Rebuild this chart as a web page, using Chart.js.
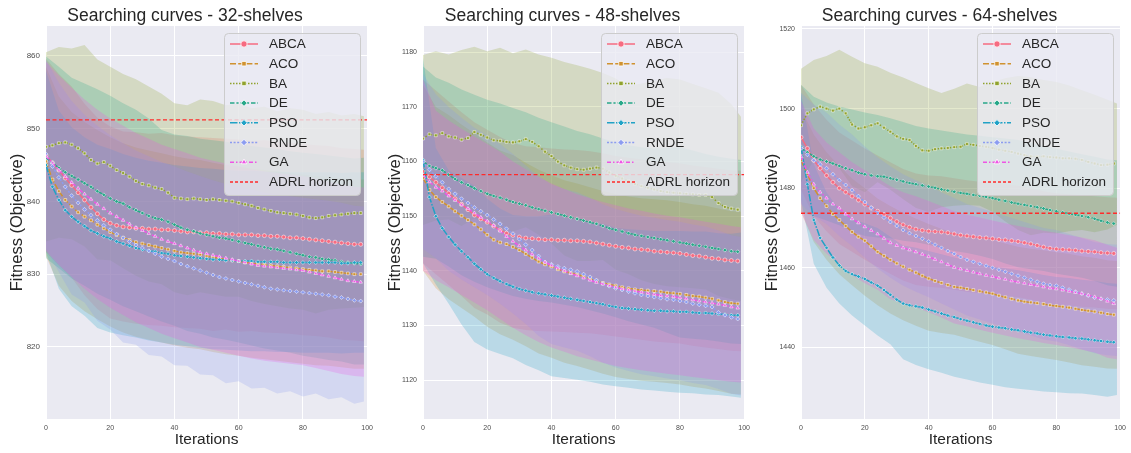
<!DOCTYPE html>
<html><head><meta charset="utf-8">
<script src="https://cdn.jsdelivr.net/npm/chart.js@4.4.0/dist/chart.umd.min.js"></script>
<style>
body{margin:0;background:#fff;width:1131px;height:453px;overflow:hidden;position:relative}
canvas{position:absolute;top:0}
</style></head><body>
<canvas id="c1" width="378" height="453" style="left:0"></canvas>
<canvas id="c2" width="377" height="453" style="left:378px"></canvas>
<canvas id="c3" width="376" height="453" style="left:755px"></canvas>
<script>
// ---------- DATA ----------
const SERIES = ['ABCA','ACO','BA','DE','PSO','RNDE','GA'];
const LEGEND_EXTRA = 'ADRL horizon';
const TITLES = ['Searching curves - 32-shelves','Searching curves - 48-shelves','Searching curves - 64-shelves'];
const X_LABEL = 'Iterations';
const Y_LABEL = 'Fitness (Objective)';
const xTicks = [0,20,40,60,80,100];
const yTicks32 = [820,830,840,850,860];
const yTicks48 = [1120,1130,1140,1150,1160,1170,1180];
const yTicks64 = [1440,1460,1480,1500,1520];
const adrl32 = 851.2, adrl48 = 1157.6, adrl64 = 1473.7;

const xMean = [0,2,4,6,8,10,12,14,16,18,20,22,24,26,28,30,32,34,36,38,40,42,44,46,48,50,52,54,56,58,60,62,64,66,68,70,72,74,76,78,80,82,84,86,88,90,92,94,96,98];
const xBand = [0,4,8,12,16,20,24,28,32,36,40,44,48,52,56,60,64,68,72,76,80,84,88,92,96,99];

// 32-shelves means
const m32_ABCA = [846.3,845.3,844.3,843.2,842.2,841.2,840.2,839.2,838.3,837.5,837.0,836.7,836.5,836.4,836.3,836.3,836.2,836.2,836.1,836.1,836.0,835.9,835.8,835.8,835.7,835.7,835.6,835.6,835.5,835.5,835.4,835.4,835.4,835.3,835.3,835.2,835.2,835.1,835.0,835.0,834.9,834.8,834.7,834.6,834.5,834.4,834.3,834.2,834.1,834.1];
const m32_ACO = [845.5,843.0,841.4,840.2,839.3,838.5,837.9,837.4,836.8,836.3,835.8,835.4,835.0,834.7,834.4,834.2,834.0,833.8,833.6,833.4,833.2,833.0,832.9,832.8,832.7,832.5,832.3,832.2,832.0,831.9,831.8,831.6,831.5,831.4,831.3,831.2,831.1,831.0,830.9,830.8,830.7,830.6,830.5,830.4,830.4,830.3,830.2,830.1,830.0,830.0];
const m32_BA = [847.5,847.7,848.0,848.1,847.8,847.3,846.6,845.7,845.2,845.4,844.9,844.3,843.9,843.4,842.8,842.4,842.2,841.9,841.7,841.2,840.5,840.4,840.3,840.4,840.3,840.2,840.3,840.2,840.1,840.0,839.8,839.6,839.4,839.1,838.9,838.7,838.5,838.4,838.3,838.2,838.0,837.8,837.7,837.8,838.0,838.1,838.2,838.3,838.4,838.4];
const m32_DE = [846.0,845.3,844.6,844.0,843.5,843.0,842.5,842.0,841.4,840.9,840.4,840.0,839.7,839.2,838.8,838.4,838.0,837.7,837.5,837.2,836.8,836.4,836.1,835.9,835.6,835.4,835.2,835.0,834.9,834.7,834.5,834.3,834.1,833.9,833.7,833.5,833.4,833.2,833.0,832.8,832.6,832.4,832.3,832.1,832.0,831.9,831.7,831.6,831.5,831.4];
const m32_PSO = [845.0,842.0,840.2,838.8,837.9,837.2,836.6,836.0,835.6,835.2,834.9,834.5,834.2,833.9,833.6,833.4,833.2,833.1,832.9,832.8,832.6,832.5,832.4,832.3,832.2,832.1,832.0,832.0,831.9,831.9,831.8,831.8,831.8,831.7,831.7,831.7,831.7,831.6,831.6,831.6,831.6,831.6,831.6,831.6,831.6,831.6,831.5,831.5,831.6,831.6];
const m32_RNDE = [846.5,844.8,843.3,842.0,840.8,839.8,838.9,838.1,837.4,836.7,836.1,835.5,835.0,834.5,834.0,833.6,833.2,832.8,832.4,832.1,831.8,831.4,831.1,830.8,830.5,830.2,829.9,829.6,829.4,829.2,829.0,828.8,828.6,828.4,828.2,828.0,827.9,827.8,827.7,827.6,827.5,827.4,827.3,827.2,827.1,826.9,826.8,826.6,826.4,826.3];
const m32_GA = [846.2,845.3,844.3,843.4,842.6,841.8,841.0,840.3,839.6,839.0,838.4,837.9,837.4,836.9,836.4,836.0,835.6,835.2,834.8,834.5,834.2,833.9,833.6,833.3,833.0,832.8,832.6,832.4,832.2,832.0,831.8,831.6,831.4,831.2,831.1,831.0,830.9,830.8,830.7,830.6,830.5,830.3,830.1,829.9,829.7,829.5,829.3,829.1,829.0,828.9];
// 32-shelves bands
const hi32_ABCA = [859.6,857.5,855.8,853.4,851.5,850.3,849.6,849.5,849.3,849.4,849.1,848.9,848.8,848.7,848.6,848.5,848.3,848.4,848.2,848.1,847.9,847.7,847.6,847.3,847.2,847.1];
const lo32_ABCA = [833.0,831.2,829.5,827.1,825.2,823.9,823.5,823.2,823.0,822.9,822.7,822.6,822.5,822.2,822.4,822.1,822.2,822.0,821.9,821.8,821.6,821.5,821.3,821.0,820.9,820.8];
const hi32_ACO = [858.5,854.4,852.3,850.9,849.8,848.8,848.0,847.4,847.0,846.6,846.2,845.9,845.7,845.3,845.0,844.8,844.5,844.3,844.1,843.9,843.7,843.5,843.4,843.2,843.0,843.0];
const lo32_ACO = [832.5,828.4,826.3,824.9,823.8,822.8,822.0,821.4,821.0,820.6,820.2,819.9,819.7,819.3,819.0,818.8,818.5,818.3,818.1,817.9,817.7,817.5,817.4,817.2,817.0,817.0];
const hi32_BA = [860.5,861.2,861.0,861.5,859.5,858.5,857.5,856.8,855.8,854.8,853.5,853.2,854.0,853.8,853.2,853.4,852.8,853.0,852.4,852.8,852.6,852.0,852.3,851.8,852.0,851.7];
const lo32_BA = [834.5,835.0,834.8,833.8,832.0,831.9,830.8,829.8,829.0,828.6,827.5,827.1,827.5,827.2,826.9,826.9,826.3,825.9,825.6,825.3,825.1,824.6,825.1,825.3,825.4,825.5];
const hi32_DE = [859.9,858.5,857.0,856.2,855.4,854.5,853.5,852.6,851.4,849.8,849.2,849.0,848.6,848.4,848.2,847.9,847.6,847.4,847.2,846.9,846.7,846.5,846.3,846.1,845.9,846.0];
const lo32_DE = [832.2,830.8,829.4,828.4,827.3,826.5,825.6,824.9,824.2,823.5,822.9,822.2,821.8,821.3,821.0,820.6,820.2,819.8,819.5,819.2,818.8,818.5,818.2,818.0,817.6,817.6];
const hi32_PSO = [858.0,852.5,850.2,848.8,847.8,847.2,846.5,846.0,845.6,845.3,845.0,844.8,844.6,844.5,844.3,844.2,844.2,844.1,844.1,844.0,844.0,844.0,844.0,843.9,844.0,844.0];
const lo32_PSO = [833.0,828.0,825.6,824.3,822.6,822.0,821.6,821.3,820.9,820.6,820.3,820.1,819.9,819.7,819.6,819.5,819.4,819.4,819.3,819.3,819.2,819.2,819.2,819.1,819.2,819.2];
const hi32_RNDE = [859.5,856.3,853.8,851.9,850.4,849.1,848.0,847.0,846.2,845.4,844.8,844.1,843.5,842.9,842.4,842.0,841.6,841.2,840.9,840.7,840.5,840.3,840.1,839.8,839.4,839.3];
const lo32_RNDE = [833.5,830.3,827.2,826.1,823.6,822.4,820.6,820.3,818.9,818.7,817.5,817.4,816.2,816.1,815.0,815.3,814.3,814.4,813.6,813.9,813.2,813.6,812.8,813.1,812.2,812.5];
const hi32_GA = [859.2,857.3,855.6,854.0,852.6,851.4,850.4,849.4,848.6,847.8,847.2,846.6,846.0,845.6,845.2,844.8,844.4,844.1,843.9,843.7,843.5,843.1,842.7,842.3,842.0,841.9];
const lo32_GA = [833.2,831.3,829.6,828.0,826.6,825.4,824.4,823.4,822.6,821.8,821.2,820.6,820.0,819.6,819.2,818.8,818.4,818.1,817.9,817.7,817.5,817.1,816.7,816.3,816.0,815.9];

// 48-shelves means
const m48_ABCA = [1158.2,1157.2,1156.2,1155.2,1154.2,1153.2,1152.2,1151.2,1150.2,1149.5,1148.9,1148.2,1147.5,1146.9,1146.5,1146.2,1146.0,1145.9,1145.8,1145.7,1145.7,1145.6,1145.6,1145.5,1145.5,1145.4,1145.3,1145.1,1144.9,1144.7,1144.5,1144.3,1144.2,1144.0,1143.9,1143.8,1143.6,1143.5,1143.4,1143.3,1143.2,1143.0,1142.8,1142.7,1142.5,1142.3,1142.2,1142.0,1141.9,1141.8];
const m48_ACO = [1157.0,1154.8,1153.5,1152.6,1151.8,1150.9,1150.1,1149.3,1148.5,1147.6,1146.6,1145.7,1145.2,1144.9,1144.4,1143.8,1143.1,1142.4,1141.7,1141.2,1140.8,1140.3,1139.9,1139.6,1139.3,1139.0,1138.6,1138.2,1137.8,1137.5,1137.3,1137.0,1136.8,1136.6,1136.5,1136.4,1136.3,1136.2,1136.0,1135.9,1135.8,1135.6,1135.4,1135.3,1135.1,1134.9,1134.6,1134.3,1134.1,1134.0];
const m48_BA = [1164.2,1165.0,1164.8,1165.2,1164.6,1164.4,1164.0,1164.3,1165.4,1164.9,1164.4,1163.9,1163.8,1163.6,1163.5,1163.7,1164.1,1163.6,1162.8,1161.8,1161.0,1160.0,1159.3,1158.9,1158.6,1158.5,1158.7,1158.9,1158.7,1158.0,1157.4,1156.9,1156.4,1155.9,1155.5,1155.2,1154.9,1154.6,1154.4,1154.3,1154.2,1154.1,1154.0,1153.9,1153.9,1153.5,1152.4,1151.7,1151.4,1151.2];
const m48_DE = [1160.0,1159.2,1158.8,1158.4,1157.6,1156.8,1156.2,1155.7,1155.1,1154.6,1154.1,1153.7,1153.4,1153.0,1152.6,1152.3,1152.0,1151.6,1151.3,1151.0,1150.7,1150.4,1150.1,1149.8,1149.5,1149.2,1148.9,1148.6,1148.2,1147.8,1147.5,1147.2,1146.9,1146.6,1146.4,1146.2,1146.0,1145.8,1145.6,1145.4,1145.2,1145.0,1144.8,1144.6,1144.4,1144.2,1144.0,1143.8,1143.6,1143.5];
const m48_PSO = [1160.3,1153.5,1150.0,1147.8,1146.2,1144.8,1143.6,1142.5,1141.3,1140.3,1139.4,1138.7,1138.1,1137.6,1137.1,1136.7,1136.4,1136.1,1135.9,1135.7,1135.5,1135.3,1135.1,1134.9,1134.7,1134.5,1134.3,1134.1,1133.9,1133.6,1133.4,1133.2,1133.1,1133.0,1132.9,1132.8,1132.7,1132.7,1132.6,1132.6,1132.5,1132.5,1132.4,1132.3,1132.3,1132.2,1132.1,1132.0,1131.9,1131.9];
const m48_RNDE = [1160.0,1158.5,1157.3,1156.2,1155.0,1154.1,1153.2,1152.4,1151.6,1150.9,1150.2,1149.4,1148.6,1147.7,1146.8,1145.8,1144.8,1143.8,1142.7,1141.6,1141.2,1140.8,1140.5,1140.2,1139.9,1139.4,1138.9,1138.3,1137.7,1137.2,1136.8,1136.5,1136.2,1135.9,1135.6,1135.4,1135.2,1135.0,1134.8,1134.7,1134.5,1134.3,1134.0,1133.8,1133.6,1133.4,1132.4,1131.9,1131.5,1131.2];
const m48_GA = [1157.5,1156.3,1155.3,1154.6,1153.7,1152.9,1152.1,1151.4,1150.6,1149.8,1149.1,1148.3,1147.3,1146.3,1145.4,1144.6,1143.8,1143.0,1142.3,1141.6,1141.0,1140.5,1140.0,1139.5,1139.1,1138.7,1138.3,1137.9,1137.6,1137.3,1137.0,1136.7,1136.5,1136.3,1136.1,1135.9,1135.7,1135.5,1135.4,1135.3,1135.1,1134.9,1134.7,1134.5,1134.3,1134.1,1133.9,1133.7,1133.4,1133.2];
// 48-shelves bands
const hi48_ABCA = [1175.0,1173.0,1171.0,1169.0,1167.2,1165.8,1164.5,1163.4,1162.8,1162.6,1162.4,1162.2,1162.1,1161.9,1161.5,1161.0,1160.7,1160.4,1160.1,1159.9,1159.7,1159.3,1159.0,1158.7,1158.4,1158.3];
const lo48_ABCA = [1141.4,1139.4,1137.4,1135.4,1133.2,1132.0,1130.5,1129.6,1129.2,1129.0,1128.9,1128.8,1128.7,1128.6,1128.3,1128.0,1127.7,1127.4,1127.1,1126.9,1126.7,1126.3,1126.0,1125.7,1125.4,1125.3];
const hi48_ACO = [1174.0,1170.0,1168.5,1166.8,1165.2,1163.5,1162.0,1161.2,1159.8,1158.5,1157.5,1156.6,1156.0,1155.3,1154.6,1154.0,1153.6,1153.3,1153.1,1152.9,1152.6,1152.2,1151.9,1151.4,1150.9,1150.8];
const lo48_ACO = [1140.0,1136.8,1134.8,1133.2,1131.6,1129.8,1128.4,1127.4,1126.2,1124.9,1124.1,1123.2,1122.6,1121.9,1121.2,1120.6,1120.2,1119.9,1119.7,1119.5,1119.2,1118.8,1118.5,1118.0,1117.5,1117.4];
const hi48_BA = [1179.5,1180.2,1179.6,1180.4,1181.0,1180.2,1180.8,1179.8,1180.5,1179.6,1179.0,1178.2,1177.6,1177.0,1176.2,1175.2,1173.8,1174.3,1174.8,1175.3,1175.0,1174.2,1173.4,1172.6,1170.5,1168.2];
const lo48_BA = [1148.4,1149.2,1149.4,1148.2,1149.6,1148.4,1147.4,1147.2,1148.0,1146.6,1145.0,1142.8,1141.8,1141.8,1142.0,1140.2,1139.4,1138.3,1137.6,1137.2,1137.0,1136.8,1136.6,1135.4,1134.8,1134.5];
const hi48_DE = [1177.4,1175.4,1174.4,1173.2,1172.2,1171.3,1170.6,1169.8,1169.0,1168.0,1167.2,1166.4,1165.6,1165.0,1164.2,1163.5,1163.0,1162.6,1162.4,1162.5,1162.6,1162.0,1161.4,1160.9,1160.5,1160.3];
const lo48_DE = [1142.6,1142.2,1140.8,1139.2,1138.0,1137.0,1136.2,1135.4,1134.9,1134.5,1134.2,1133.8,1133.4,1132.8,1132.2,1131.5,1130.8,1130.2,1129.6,1128.7,1127.8,1127.6,1127.4,1127.1,1126.7,1126.6];
const hi48_PSO = [1179.0,1162.5,1158.4,1157.0,1155.6,1153.2,1151.4,1150.2,1150.0,1150.0,1150.3,1149.8,1149.3,1148.9,1148.6,1147.9,1147.6,1147.5,1147.3,1147.3,1147.3,1147.2,1147.2,1146.9,1146.8,1147.0];
const lo48_PSO = [1141.4,1137.5,1134.0,1130.2,1127.0,1125.6,1124.8,1124.0,1122.8,1121.8,1120.7,1120.4,1120.1,1119.7,1119.2,1118.9,1118.6,1118.3,1118.1,1117.9,1117.7,1117.6,1117.4,1117.3,1117.0,1116.8];
const hi48_RNDE = [1176.0,1172.3,1170.0,1168.0,1166.2,1164.8,1163.2,1161.4,1159.3,1157.3,1155.8,1155.0,1154.4,1153.4,1152.2,1151.3,1150.7,1150.1,1149.7,1149.3,1149.0,1148.5,1148.1,1147.4,1146.5,1146.2];
const lo48_RNDE = [1144.0,1142.3,1140.0,1138.4,1137.0,1135.6,1134.0,1132.2,1130.3,1128.1,1126.6,1126.0,1125.4,1124.4,1123.2,1122.3,1121.7,1121.1,1120.7,1120.3,1120.0,1119.5,1119.1,1118.4,1117.5,1117.2];
const hi48_GA = [1175.0,1169.3,1167.5,1166.0,1164.6,1163.2,1161.8,1160.0,1158.6,1157.2,1156.0,1155.0,1154.0,1153.3,1152.6,1152.0,1151.4,1151.0,1150.5,1150.1,1149.8,1149.4,1149.0,1148.6,1148.2,1148.0];
const lo48_GA = [1140.0,1138.3,1137.0,1135.6,1134.2,1132.8,1131.2,1129.6,1128.2,1127.0,1126.0,1125.2,1124.4,1123.8,1123.2,1122.6,1122.2,1121.8,1121.5,1121.2,1120.9,1120.6,1120.3,1120.0,1119.7,1119.6];

// 64-shelves means
const m64_ABCA = [1492.8,1490.0,1487.0,1485.0,1483.2,1481.5,1480.0,1479.0,1478.0,1477.0,1476.0,1475.0,1474.2,1473.4,1472.5,1471.6,1470.8,1470.2,1469.7,1469.4,1469.2,1469.1,1469.0,1468.8,1468.5,1468.2,1468.0,1467.8,1467.6,1467.5,1467.3,1467.1,1467.0,1466.8,1466.6,1466.3,1466.0,1465.6,1465.2,1464.9,1464.7,1464.6,1464.5,1464.4,1464.2,1464.1,1464.0,1463.8,1463.7,1463.6];
const m64_ACO = [1487.0,1483.5,1480.0,1477.5,1475.5,1473.5,1472.0,1470.5,1469.0,1467.8,1466.8,1465.4,1464.0,1463.0,1462.0,1461.1,1460.3,1459.5,1458.8,1458.0,1457.3,1456.7,1456.2,1455.7,1455.2,1455.0,1454.7,1454.4,1454.1,1453.8,1453.5,1453.0,1452.6,1452.2,1451.8,1451.5,1451.3,1451.1,1450.9,1450.6,1450.4,1450.2,1450.0,1449.7,1449.4,1449.2,1449.0,1448.7,1448.4,1448.2];
const m64_BA = [1495.8,1498.8,1499.8,1500.5,1500.0,1499.5,1500.0,1498.8,1496.0,1495.0,1495.3,1495.8,1496.3,1495.2,1494.2,1493.0,1492.4,1492.1,1490.6,1489.5,1489.4,1489.8,1490.0,1490.1,1490.3,1490.4,1491.1,1490.9,1490.6,1490.4,1490.1,1489.7,1489.4,1489.1,1488.7,1488.3,1488.0,1487.9,1488.0,1487.8,1487.7,1487.5,1487.5,1487.4,1487.1,1486.6,1486.2,1485.8,1485.9,1486.2];
const m64_DE = [1490.0,1489.0,1488.0,1487.2,1486.7,1486.2,1485.6,1485.0,1484.5,1483.9,1483.5,1483.2,1483.0,1482.9,1482.5,1482.1,1481.7,1481.3,1481.0,1480.7,1480.4,1480.1,1479.7,1479.4,1479.1,1478.8,1478.6,1478.3,1478.1,1477.8,1477.5,1477.1,1476.8,1476.4,1476.1,1475.8,1475.5,1475.2,1474.9,1474.5,1474.2,1473.9,1473.6,1473.3,1473.0,1472.7,1472.3,1471.8,1471.4,1471.1];
const m64_PSO = [1490.4,1481.0,1472.0,1467.5,1465.0,1462.6,1460.6,1459.2,1458.4,1457.8,1457.2,1456.3,1455.5,1454.4,1453.2,1452.0,1451.0,1450.6,1450.3,1450.0,1449.5,1449.0,1448.5,1448.0,1447.6,1447.1,1446.7,1446.3,1445.9,1445.5,1445.2,1445.0,1444.8,1444.5,1444.3,1444.0,1443.7,1443.5,1443.2,1443.0,1442.8,1442.6,1442.5,1442.3,1442.2,1442.0,1441.8,1441.6,1441.4,1441.3];
const m64_RNDE = [1490.0,1488.4,1487.0,1486.0,1485.0,1483.5,1482.0,1480.8,1479.5,1478.0,1476.5,1475.1,1473.8,1472.6,1471.5,1470.5,1469.5,1468.7,1468.0,1467.3,1466.6,1465.8,1465.0,1464.2,1463.5,1462.7,1462.0,1461.5,1461.0,1460.5,1460.0,1459.5,1459.0,1458.5,1458.0,1457.5,1457.0,1456.5,1456.0,1455.7,1455.5,1455.0,1454.5,1454.0,1453.5,1453.0,1452.5,1452.2,1452.0,1451.8];
const m64_GA = [1488.0,1484.0,1481.0,1479.0,1477.5,1476.0,1475.0,1473.5,1472.3,1471.3,1470.3,1469.4,1468.5,1467.4,1466.3,1465.6,1465.0,1464.5,1464.0,1463.4,1462.8,1462.1,1461.5,1460.8,1460.1,1459.7,1459.3,1458.9,1458.5,1458.1,1457.8,1457.4,1457.1,1456.7,1456.4,1456.1,1455.8,1455.5,1455.2,1454.9,1454.7,1454.4,1454.1,1453.8,1453.5,1453.1,1452.7,1452.2,1451.6,1451.0];
// 64-shelves bands
const hi64_ABCA = [1506.0,1501.0,1497.2,1494.0,1492.0,1490.0,1488.2,1486.5,1484.8,1483.7,1483.2,1483.0,1482.5,1482.0,1481.6,1481.3,1481.0,1480.6,1480.0,1479.2,1478.7,1478.5,1478.2,1478.0,1477.7,1477.6];
const lo64_ABCA = [1479.6,1473.0,1469.2,1466.0,1464.0,1462.0,1460.2,1458.5,1456.8,1455.7,1455.2,1455.0,1454.5,1454.0,1453.6,1453.3,1453.0,1452.6,1452.0,1451.2,1450.7,1450.5,1450.2,1450.0,1449.7,1449.6];
const hi64_ACO = [1500.0,1493.5,1489.0,1485.6,1482.4,1480.0,1477.4,1475.5,1473.8,1472.4,1471.0,1469.8,1468.8,1468.3,1467.6,1467.0,1466.1,1465.3,1464.8,1464.4,1463.9,1463.5,1462.9,1462.5,1461.9,1461.7];
const lo64_ACO = [1474.0,1466.5,1462.0,1458.4,1455.6,1453.0,1450.6,1448.5,1446.8,1445.4,1444.2,1443.6,1443.2,1442.3,1441.4,1440.6,1439.5,1438.4,1437.8,1437.3,1436.8,1436.2,1435.5,1435.1,1434.7,1434.6];
const hi64_BA = [1510.0,1512.2,1513.2,1514.8,1513.0,1511.4,1510.5,1509.0,1507.8,1506.4,1505.1,1503.9,1505.0,1506.3,1505.4,1506.7,1507.6,1508.2,1507.9,1507.2,1506.7,1505.8,1504.6,1503.5,1502.2,1501.3];
const lo64_BA = [1481.5,1487.0,1486.8,1485.0,1480.5,1479.0,1481.5,1479.6,1477.2,1475.0,1474.0,1475.2,1475.6,1475.8,1475.6,1474.1,1471.6,1469.5,1468.2,1468.8,1468.6,1469.2,1469.5,1468.9,1469.6,1470.8];
const hi64_DE = [1506.0,1503.0,1501.5,1500.5,1499.8,1499.0,1498.4,1497.6,1496.6,1495.6,1495.0,1494.5,1494.0,1493.5,1493.2,1492.8,1492.5,1492.1,1491.4,1490.6,1489.9,1489.2,1488.5,1487.9,1487.2,1487.0];
const lo64_DE = [1474.0,1473.0,1471.9,1470.7,1469.2,1468.0,1467.6,1467.4,1466.8,1466.4,1465.8,1464.9,1464.2,1463.7,1463.0,1462.2,1461.1,1460.1,1459.6,1459.2,1458.5,1458.0,1457.5,1456.7,1455.6,1455.2];
const hi64_PSO = [1504.0,1486.0,1479.0,1474.6,1472.4,1471.2,1470.0,1467.8,1465.6,1465.0,1464.2,1463.4,1462.6,1461.8,1461.0,1460.3,1459.9,1459.4,1458.8,1458.2,1457.7,1457.4,1457.0,1456.7,1456.2,1456.0];
const lo64_PSO = [1477.0,1461.0,1455.0,1451.0,1448.0,1445.5,1443.0,1440.8,1437.0,1435.6,1434.5,1433.6,1432.6,1431.9,1431.2,1430.6,1430.0,1429.6,1429.3,1428.9,1428.7,1428.5,1428.4,1428.0,1427.6,1428.0];
const hi64_RNDE = [1504.0,1501.0,1499.0,1496.0,1493.5,1490.5,1487.8,1485.5,1483.5,1482.0,1480.6,1479.0,1477.5,1476.0,1475.0,1474.0,1473.0,1472.0,1471.0,1470.0,1469.5,1468.5,1467.5,1466.5,1466.0,1465.8];
const lo64_RNDE = [1476.0,1473.0,1471.0,1468.0,1465.5,1462.5,1459.8,1457.5,1455.5,1454.0,1452.6,1451.0,1449.5,1448.0,1447.0,1446.0,1445.0,1444.0,1443.0,1442.0,1441.5,1440.5,1439.5,1438.5,1438.0,1437.8];
const hi64_GA = [1502.0,1495.0,1491.5,1489.0,1486.5,1484.5,1482.5,1480.5,1479.0,1478.0,1476.8,1475.5,1474.2,1473.3,1472.6,1471.9,1471.2,1470.5,1469.9,1469.3,1468.8,1468.2,1467.6,1466.9,1465.8,1465.0];
const lo64_GA = [1474.0,1467.0,1463.5,1461.0,1458.1,1456.1,1454.5,1452.1,1451.0,1450.0,1448.8,1447.5,1446.0,1445.3,1444.4,1443.7,1443.0,1442.3,1441.7,1441.1,1440.6,1440.0,1439.4,1438.7,1437.4,1437.0];

// ---------- STYLE ----------
const FONT = '"Liberation Sans", Arial, Helvetica, sans-serif';
const COLORS = {ABCA:'#f66b81', ACO:'#d0922f', BA:'#90a22c', DE:'#28a889', PSO:'#20a2c6', RNDE:'#8c9cf0', GA:'#ee55e4'};
const DASH = {ABCA:[], ACO:[6,2.2], BA:[1.5,1.5], DE:[4.5,1.9,2.2,1.9], PSO:[7.5,1.5,1.5,1.5], RNDE:[2,1.6], GA:[4,2,1.5,2]};
const PSTYLE = {ABCA:'circle', ACO:'rect', BA:'rect', DE:'rectRot', PSO:'rectRot', RNDE:'rectRot', GA:'triangle'};
function rgba(hex,a){const n=parseInt(hex.slice(1),16);return `rgba(${n>>16&255},${n>>8&255},${n&255},${a})`;}

const panels = [
  {id:'c1', title:TITLES[0], yMin:810.1, yMax:864.1, yTicks:yTicks32, adrl:adrl32, axisW:46, padR:8, yFont:8,
   mean:{ABCA:m32_ABCA,ACO:m32_ACO,BA:m32_BA,DE:m32_DE,PSO:m32_PSO,RNDE:m32_RNDE,GA:m32_GA},
   lo:{ABCA:lo32_ABCA,ACO:lo32_ACO,BA:lo32_BA,DE:lo32_DE,PSO:lo32_PSO,RNDE:lo32_RNDE,GA:lo32_GA},
   hi:{ABCA:hi32_ABCA,ACO:hi32_ACO,BA:hi32_BA,DE:hi32_DE,PSO:hi32_PSO,RNDE:hi32_RNDE,GA:hi32_GA}},
  {id:'c2', title:TITLES[1], yMin:1112.9, yMax:1184.8, yTicks:yTicks48, adrl:adrl48, axisW:45, padR:8, yFont:7,
   mean:{ABCA:m48_ABCA,ACO:m48_ACO,BA:m48_BA,DE:m48_DE,PSO:m48_PSO,RNDE:m48_RNDE,GA:m48_GA},
   lo:{ABCA:lo48_ABCA,ACO:lo48_ACO,BA:lo48_BA,DE:lo48_DE,PSO:lo48_PSO,RNDE:lo48_RNDE,GA:lo48_GA},
   hi:{ABCA:hi48_ABCA,ACO:hi48_ACO,BA:hi48_BA,DE:hi48_DE,PSO:hi48_PSO,RNDE:hi48_RNDE,GA:hi48_GA}},
  {id:'c3', title:TITLES[2], yMin:1422.0, yMax:1520.75, yTicks:yTicks64, adrl:adrl64, axisW:46, padR:7, yFont:7,
   mean:{ABCA:m64_ABCA,ACO:m64_ACO,BA:m64_BA,DE:m64_DE,PSO:m64_PSO,RNDE:m64_RNDE,GA:m64_GA},
   lo:{ABCA:lo64_ABCA,ACO:lo64_ACO,BA:lo64_BA,DE:lo64_DE,PSO:lo64_PSO,RNDE:lo64_RNDE,GA:lo64_GA},
   hi:{ABCA:hi64_ABCA,ACO:hi64_ACO,BA:hi64_BA,DE:hi64_DE,PSO:hi64_PSO,RNDE:hi64_RNDE,GA:hi64_GA}}
];

const bgPlugin = {
  id:'bg',
  beforeDraw(chart){
    const a = chart.chartArea, ctx = chart.ctx;
    ctx.save(); ctx.fillStyle = '#eaeaf2'; ctx.fillRect(a.left, a.top, a.right-a.left, a.bottom-a.top); ctx.restore();
  }
};

const legendPlugin = {
  id:'customLegend',
  afterDraw(chart){
    const ctx = chart.ctx, a = chart.chartArea;
    const w = 136, h = 162, x0 = Math.round(a.right - 7 - w), y0 = Math.round(a.top + 7);
    ctx.save();
    ctx.beginPath();
    ctx.roundRect(x0 + 0.5, y0 + 0.5, w, h, 4);
    ctx.fillStyle = 'rgba(234,234,242,0.8)'; ctx.fill();
    ctx.strokeStyle = '#cccccc'; ctx.lineWidth = 1; ctx.stroke();
    const labels = SERIES.concat([LEGEND_EXTRA]);
    labels.forEach((lab, i) => {
      const cy = y0 + 11 + i * 19.7;
      const isS = i < SERIES.length;
      const col = isS ? COLORS[lab] : '#ff2a2a';
      ctx.setLineDash(isS ? DASH[lab] : [3, 2]);
      ctx.strokeStyle = col; ctx.lineWidth = 1.5;
      ctx.beginPath(); ctx.moveTo(x0 + 6, cy); ctx.lineTo(x0 + 34, cy); ctx.stroke();
      ctx.setLineDash([]);
      if (isS) {
        ctx.fillStyle = col; ctx.strokeStyle = '#ffffff'; ctx.lineWidth = 0.8;
        Chart.helpers.drawPoint(ctx, {pointStyle: PSTYLE[lab], radius: 3.2, borderWidth: 0.8, rotation: 0}, x0 + 20, cy);
      }
      ctx.fillStyle = '#262626';
      ctx.font = '13.5px ' + FONT;
      ctx.textBaseline = 'middle'; ctx.textAlign = 'left';
      ctx.fillText(lab, x0 + 45, cy + 0.5);
    });
    ctx.restore();
  }
};

panels.forEach(p => {
  const datasets = [];
  SERIES.forEach((s, i) => {
    datasets.push({
      label: s + ' lower', data: xBand.map((x, k) => ({x, y: p.lo[s][k]})),
      borderWidth: 0, borderColor: 'rgba(0,0,0,0)', pointRadius: 0, fill: false, order: 3 - i * 0.05
    });
    datasets.push({
      label: s + ' upper', data: xBand.map((x, k) => ({x, y: p.hi[s][k]})),
      borderWidth: 0, borderColor: 'rgba(0,0,0,0)', pointRadius: 0,
      fill: '-1', backgroundColor: rgba(COLORS[s], 0.24), order: 3 - i * 0.05
    });
  });
  SERIES.forEach((s, i) => {
    datasets.push({
      label: s, data: xMean.map((x, k) => ({x, y: p.mean[s][k]})),
      borderColor: COLORS[s], borderWidth: 1.5, borderDash: DASH[s], fill: false,
      pointStyle: PSTYLE[s], pointRadius: 2, pointBackgroundColor: COLORS[s],
      pointBorderColor: 'rgba(255,255,255,0.85)', pointBorderWidth: 0.6,
      order: 1.5 - i * 0.05
    });
  });
  datasets.push({
    label: LEGEND_EXTRA, data: [{x: 0, y: p.adrl}, {x: 100, y: p.adrl}],
    borderColor: '#ff2a2a', borderWidth: 1.3, borderDash: [4, 2.5], pointRadius: 0, fill: false, order: 0
  });

  new Chart(document.getElementById(p.id), {
    type: 'line',
    data: {datasets},
    plugins: [bgPlugin, legendPlugin],
    options: {
      responsive: false, animation: false, devicePixelRatio: 1,
      layout: {padding: {left: 0, right: p.padR, top: 0, bottom: 0}},
      elements: {line: {tension: 0}},
      plugins: {
        legend: {display: false}, tooltip: {enabled: false},
        title: {display: true, text: p.title, color: '#262626',
                font: {family: FONT, size: 17.5, weight: 'normal', lineHeight: 1},
                padding: {top: 7.5, bottom: 1}}
      },
      scales: {
        x: {
          type: 'linear', min: 0, max: 100,
          afterBuildTicks: sc => { sc.ticks = xTicks.map(v => ({value: v})); },
          ticks: {font: {family: FONT, size: 7}, color: '#4d4d4d', padding: 5, maxRotation: 0, autoSkip: false,
                  callback: v => String(v)},
          grid: {color: '#ffffff', lineWidth: 1, drawTicks: false},
          border: {display: false},
          title: {display: true, text: X_LABEL, color: '#262626', font: {family: FONT, size: 15.5}, padding: {top: 0, bottom: 3.7}},
          afterFit: sc => { sc.height = 34; }
        },
        y: {
          type: 'linear', min: p.yMin, max: p.yMax,
          afterBuildTicks: sc => { sc.ticks = p.yTicks.map(v => ({value: v})); },
          ticks: {font: {family: FONT, size: p.yFont}, color: '#4d4d4d', padding: 6, autoSkip: false,
                  callback: v => String(v)},
          grid: {color: '#ffffff', lineWidth: 1, drawTicks: false},
          border: {display: false},
          title: {display: true, text: Y_LABEL, color: '#262626', font: {family: FONT, size: 16.5}, padding: {top: 7.2, bottom: 0}},
          afterFit: sc => { sc.width = p.axisW; }
        }
      }
    }
  });
});
</script>
</body></html>
